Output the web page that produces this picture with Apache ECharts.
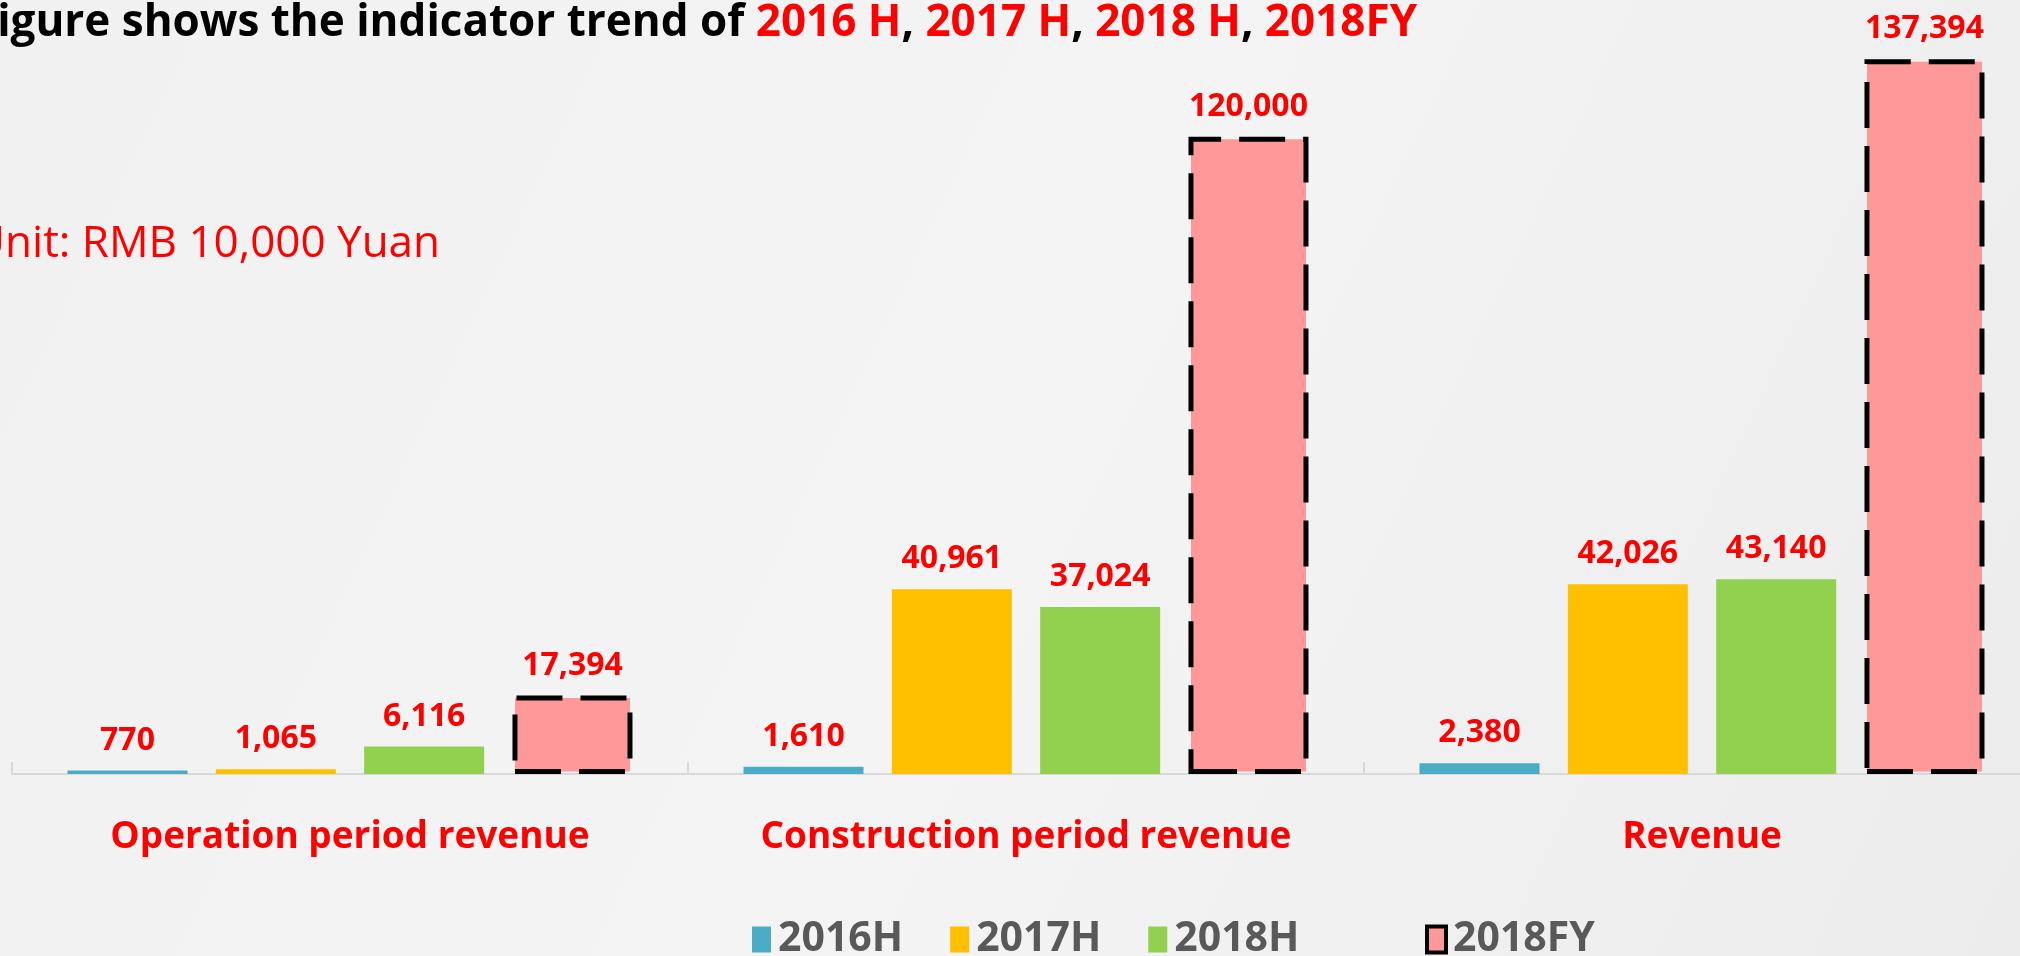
<!DOCTYPE html>
<html>
<head>
<meta charset="utf-8">
<title>Indicator trend</title>
<script src="https://cdn.jsdelivr.net/npm/echarts@6/dist/echarts.min.js"></script>
<style>
  html, body { margin: 0; padding: 0; overflow: hidden; }
  /* the picture is cropped on the right, so the chart runs a little past the window */
  #chart { width: 2040px; height: 956px; }
</style>
</head>
<body>
<div id="chart"></div>
<script>
// categories and series
var categories = ['Operation period revenue', 'Construction period revenue', 'Revenue']
var h2016 = [770, 1610, 2380]
var h2017 = [1065, 40961, 42026]
var h2018 = [6116, 37024, 43140]
// the 2018FY bars are drawn taller than their printed labels, so keep both
var fy2018 = [17394, 141200, 158400]
var fy2018Labels = ['17,394', '120,000', '137,394']

var font = '"Open Sans", "Noto Sans", sans-serif'

var labelStyle = {
  show: true,
  position: 'top',
  distance: 14,
  color: '#ff0000',
  fontFamily: font,
  fontWeight: 'bold',
  fontSize: 32,
  formatter: function(p) {
    return p.value.toLocaleString('en-US')
  }
}

function barSeries(name, data, color) {
  return {
    name: name,
    type: 'bar',
    barWidth: 120,
    barGap: '23.6%',
    data: data,
    itemStyle: { color: color },
    label: labelStyle
  }
}

var legendText = {
  color: '#595959',
  fontFamily: font,
  fontWeight: 'bold',
  fontSize: 41,
  padding: [0, 0, 0, 2]
}

var chart = echarts.init(document.getElementById('chart'))

chart.setOption({
  backgroundColor: new echarts.graphic.LinearGradient(0, 0, 1, 1, [
    { offset: 0, color: '#f1f1f1' },
    { offset: 0.5, color: '#f4f4f4' },
    { offset: 1, color: '#ececec' }
  ]),
  textStyle: { fontFamily: font },
  graphic: [
    {
      type: 'text',
      left: -27,
      top: 1,
      style: {
        text: '{b|Figure shows the indicator trend of }{r|2016 H}{b|, }{r|2017 H}{b|, }{r|2018 H}{b|, }{r|2018FY}',
        rich: {
          b: { fontFamily: font, fontWeight: 'bold', fontSize: 44, fill: '#000000', color: '#000000' },
          r: { fontFamily: font, fontWeight: 'bold', fontSize: 44, fill: '#ff0000', color: '#ff0000' }
        }
      }
    },
    {
      type: 'text',
      left: -27,
      top: 222,
      style: {
        text: 'Unit: RMB 10,000 Yuan',
        fontFamily: font,
        fontSize: 44,
        fill: '#ff0000'
      }
    }
  ],
  legend: [
    {
      left: 747,
      top: 914,
      itemWidth: 19,
      itemHeight: 26,
      itemGap: 47,
      icon: 'rect',
      textStyle: legendText,
      data: ['2016H', '2017H', '2018H']
    },
    {
      left: 1420,
      top: 914,
      itemWidth: 19,
      itemHeight: 26,
      icon: 'rect',
      textStyle: legendText,
      data: [
        { name: '2018FY', itemStyle: { borderWidth: 4, borderType: 'solid', borderColor: '#000' } }
      ]
    }
  ],
  grid: {
    left: 12,
    right: 0,
    top: 52,
    bottom: 182,
    containLabel: false
  },
  xAxis: {
    type: 'category',
    data: categories,
    axisLine: { lineStyle: { color: '#d9d9d9', width: 2 } },
    axisTick: { show: true, inside: true, length: 12, lineStyle: { color: '#d9d9d9', width: 2 } },
    axisLabel: {
      interval: 0,
      color: '#ff0000',
      fontFamily: font,
      fontWeight: 'bold',
      fontSize: 37,
      margin: 45
    }
  },
  yAxis: {
    type: 'value',
    min: 0,
    max: 160000,
    show: false,
    splitLine: { show: false }
  },
  series: [
    barSeries('2016H', h2016, '#4bacc6'),
    barSeries('2017H', h2017, '#ffc000'),
    barSeries('2018H', h2018, '#92d050'),
    {
      name: '2018FY',
      type: 'bar',
      barWidth: 120,
      barGap: '23.6%',
      data: fy2018,
      itemStyle: {
        color: '#ff9999',
        borderColor: '#000000',
        borderWidth: 5,
        borderType: [46, 18]
      },
      label: Object.assign({}, labelStyle, {
        formatter: function(p) {
          return fy2018Labels[p.dataIndex]
        }
      })
    }
  ]
})
</script>
</body>
</html>
